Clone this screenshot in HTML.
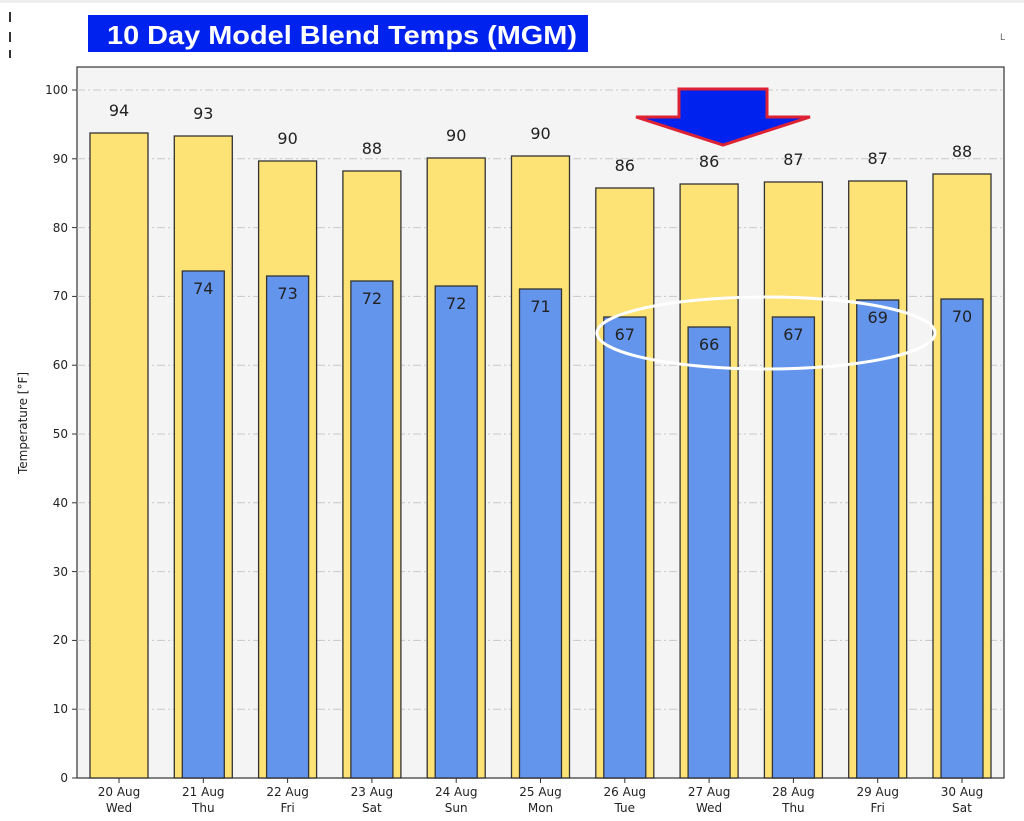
<!DOCTYPE html>
<html><head><meta charset="utf-8"><style>
body{margin:0;background:#fff;}
svg{display:block;font-family:"DejaVu Sans","Liberation Sans",sans-serif;}
</style></head><body>
<svg width="1024" height="821" viewBox="0 0 1024 821" xmlns="http://www.w3.org/2000/svg">
<rect width="1024" height="821" fill="#fff"/>
<rect x="0" y="0" width="1024" height="3" fill="#eee"/>
<rect x="9" y="12" width="2" height="10" fill="#333"/><rect x="9" y="32" width="2" height="10" fill="#333"/><rect x="9" y="50" width="2" height="8" fill="#333"/>
<rect x="88" y="15" width="500" height="37" fill="#0022ee"/>
<text x="107" y="44" textLength="470" lengthAdjust="spacingAndGlyphs" font-family="Liberation Sans,sans-serif" font-weight="bold" font-size="26" fill="#fff">10 Day Model Blend Temps (MGM)</text>
<text x="1000" y="40" font-size="9" fill="#666">L</text>
<rect x="77" y="67" width="927" height="711" fill="#f4f4f4" stroke="#333" stroke-width="1.2"/>
<g stroke="#c8c8c8" stroke-width="1" stroke-dasharray="8,3,2,3">
<line x1="77" x2="1004" y1="709.2" y2="709.2"/><line x1="77" x2="1004" y1="640.4" y2="640.4"/><line x1="77" x2="1004" y1="571.6" y2="571.6"/><line x1="77" x2="1004" y1="502.8" y2="502.8"/><line x1="77" x2="1004" y1="434" y2="434"/><line x1="77" x2="1004" y1="365.2" y2="365.2"/><line x1="77" x2="1004" y1="296.4" y2="296.4"/><line x1="77" x2="1004" y1="227.6" y2="227.6"/><line x1="77" x2="1004" y1="158.8" y2="158.8"/><line x1="77" x2="1004" y1="90" y2="90"/>
</g>
<g stroke="#333" stroke-width="1">
<line x1="72" x2="77" y1="778" y2="778"/><line x1="72" x2="77" y1="709.2" y2="709.2"/><line x1="72" x2="77" y1="640.4" y2="640.4"/><line x1="72" x2="77" y1="571.6" y2="571.6"/><line x1="72" x2="77" y1="502.8" y2="502.8"/><line x1="72" x2="77" y1="434" y2="434"/><line x1="72" x2="77" y1="365.2" y2="365.2"/><line x1="72" x2="77" y1="296.4" y2="296.4"/><line x1="72" x2="77" y1="227.6" y2="227.6"/><line x1="72" x2="77" y1="158.8" y2="158.8"/><line x1="72" x2="77" y1="90" y2="90"/>
</g>
<g font-size="12" fill="#222" text-anchor="end">
<text x="68" y="782">0</text><text x="68" y="713">10</text><text x="68" y="644">20</text><text x="68" y="576">30</text><text x="68" y="507">40</text><text x="68" y="438">50</text><text x="68" y="369">60</text><text x="68" y="300">70</text><text x="68" y="232">80</text><text x="68" y="163">90</text><text x="68" y="94">100</text>
</g>
<text transform="translate(27,423) rotate(-90)" font-size="12" fill="#222" text-anchor="middle">Temperature [°F]</text>
<g fill="#fde276" stroke="#333" stroke-width="1.3">
<rect x="90" y="133" width="58" height="645"/><rect x="174.3" y="136" width="58" height="642"/><rect x="258.6" y="161" width="58" height="617"/><rect x="342.9" y="171" width="58" height="607"/><rect x="427.2" y="158" width="58" height="620"/><rect x="511.5" y="156" width="58" height="622"/><rect x="595.8" y="188" width="58" height="590"/><rect x="680.1" y="184" width="58" height="594"/><rect x="764.4" y="182" width="58" height="596"/><rect x="848.7" y="181" width="58" height="597"/><rect x="933" y="174" width="58" height="604"/>
</g>
<g fill="#6495ed" stroke="#333" stroke-width="1.3">
<rect x="182.3" y="271" width="42" height="507"/><rect x="266.6" y="276" width="42" height="502"/><rect x="350.9" y="281" width="42" height="497"/><rect x="435.2" y="286" width="42" height="492"/><rect x="519.5" y="289" width="42" height="489"/><rect x="603.8" y="317" width="42" height="461"/><rect x="688.1" y="327" width="42" height="451"/><rect x="772.4" y="317" width="42" height="461"/><rect x="856.7" y="300" width="42" height="478"/><rect x="941" y="299" width="42" height="479"/>
</g>
<g font-size="16" fill="#222" text-anchor="middle">
<text x="119" y="116">94</text><text x="203.3" y="119">93</text><text x="287.6" y="144">90</text><text x="371.9" y="154">88</text><text x="456.2" y="141">90</text><text x="540.5" y="139">90</text><text x="624.8" y="171">86</text><text x="709.1" y="167">86</text><text x="793.4" y="165">87</text><text x="877.7" y="164">87</text><text x="962" y="157">88</text>
<text x="203.3" y="294">74</text><text x="287.6" y="299">73</text><text x="371.9" y="304">72</text><text x="456.2" y="309">72</text><text x="540.5" y="312">71</text><text x="624.8" y="340">67</text><text x="709.1" y="350">66</text><text x="793.4" y="340">67</text><text x="877.7" y="323">69</text><text x="962" y="322">70</text>
</g>
<g stroke="#333"><line x1="119" x2="119" y1="778" y2="783"/><line x1="203.3" x2="203.3" y1="778" y2="783"/><line x1="287.6" x2="287.6" y1="778" y2="783"/><line x1="371.9" x2="371.9" y1="778" y2="783"/><line x1="456.2" x2="456.2" y1="778" y2="783"/><line x1="540.5" x2="540.5" y1="778" y2="783"/><line x1="624.8" x2="624.8" y1="778" y2="783"/><line x1="709.1" x2="709.1" y1="778" y2="783"/><line x1="793.4" x2="793.4" y1="778" y2="783"/><line x1="877.7" x2="877.7" y1="778" y2="783"/><line x1="962" x2="962" y1="778" y2="783"/></g>
<g font-size="12" fill="#222" text-anchor="middle">
<text x="119" y="796">20 Aug</text><text x="119" y="812">Wed</text>
<text x="203.3" y="796">21 Aug</text><text x="203.3" y="812">Thu</text>
<text x="287.6" y="796">22 Aug</text><text x="287.6" y="812">Fri</text>
<text x="371.9" y="796">23 Aug</text><text x="371.9" y="812">Sat</text>
<text x="456.2" y="796">24 Aug</text><text x="456.2" y="812">Sun</text>
<text x="540.5" y="796">25 Aug</text><text x="540.5" y="812">Mon</text>
<text x="624.8" y="796">26 Aug</text><text x="624.8" y="812">Tue</text>
<text x="709.1" y="796">27 Aug</text><text x="709.1" y="812">Wed</text>
<text x="793.4" y="796">28 Aug</text><text x="793.4" y="812">Thu</text>
<text x="877.7" y="796">29 Aug</text><text x="877.7" y="812">Fri</text>
<text x="962" y="796">30 Aug</text><text x="962" y="812">Sat</text>
</g>
<ellipse cx="766" cy="333" rx="169" ry="36" fill="none" stroke="#fff" stroke-width="3"/>
<polygon points="679,89 767,89 767,117 810,117 723,145 636,117 679,117" fill="#0022ee" stroke="#dd2233" stroke-width="3" stroke-linejoin="miter"/>
</svg>
</body></html>
